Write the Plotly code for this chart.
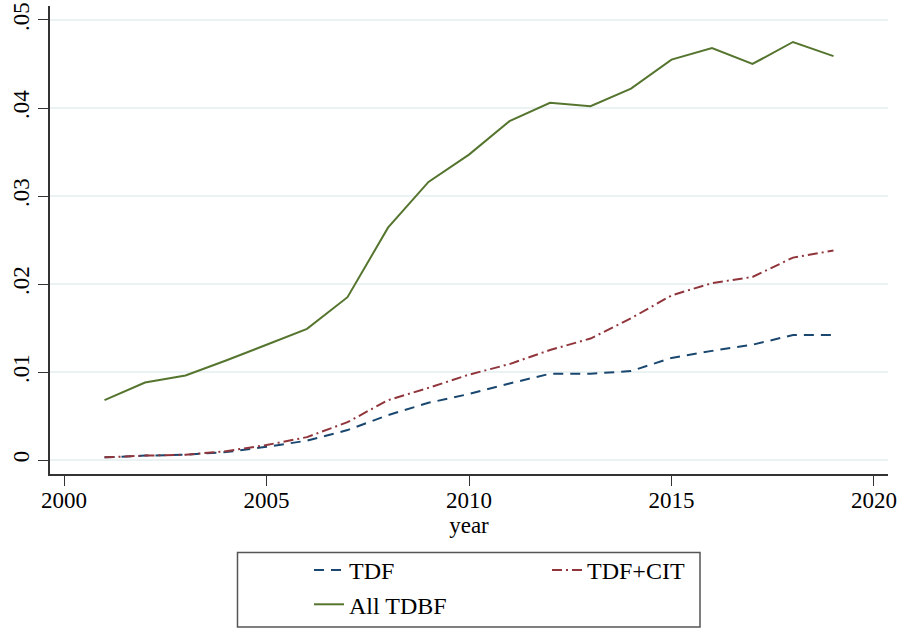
import plotly.graph_objects as go

years = list(range(2001, 2020))
tdf = [0.0003, 0.0005, 0.0006, 0.0009, 0.0015, 0.0022, 0.0034, 0.0051, 0.0065, 0.0075,
       0.0087, 0.0098, 0.0098, 0.0101, 0.0116, 0.0124, 0.0131, 0.0142, 0.0142]
tdf_cit = [0.0003, 0.0005, 0.0006, 0.0010, 0.0017, 0.0026, 0.0043, 0.0068, 0.0082, 0.0097,
           0.0109, 0.0125, 0.0138, 0.0161, 0.0187, 0.0201, 0.0208, 0.0230, 0.0238]
all_tdbf = [0.0068, 0.0088, 0.0096, 0.0113, 0.0131, 0.0149, 0.0185, 0.0264, 0.0316, 0.0347,
            0.0385, 0.0406, 0.0402, 0.0422, 0.0455, 0.0468, 0.0450, 0.0475, 0.0459]

x_ticks = [2000, 2005, 2010, 2015, 2020]
y_ticks = [0, 0.01, 0.02, 0.03, 0.04, 0.05]
y_ticklabels = ["0", ".01", ".02", ".03", ".04", ".05"]

FONT = "Liberation Serif, Times New Roman, serif"
W, H = 901, 628
L, R, T, B = 50, 13, 6, 154
pw, ph = W - L - R, H - T - B

def px(xf):
    return (xf - L) / pw

def py(yf):
    return (H - B - yf) / ph

fig = go.Figure()
fig.add_trace(go.Scatter(x=years, y=tdf, mode="lines", name="TDF",
                         line=dict(color="#1a476f", width=2, dash="10px,7px"),
                         legend="legend"))
fig.add_trace(go.Scatter(x=years, y=tdf_cit, mode="lines", name="TDF+CIT",
                         line=dict(color="#90353b", width=2, dash="10px,4px,2px,4px"),
                         legend="legend2"))
fig.add_trace(go.Scatter(x=years, y=all_tdbf, mode="lines", name="All TDBF",
                         line=dict(color="#55752f", width=2),
                         legend="legend"))

fig.update_layout(
    width=W, height=H,
    margin=dict(l=L, r=R, t=T, b=B, autoexpand=False),
    paper_bgcolor="white", plot_bgcolor="white",
    font=dict(family=FONT, size=23, color="black"),
    xaxis=dict(range=[1999.654, 2020.346], tickvals=x_ticks, ticks="outside", ticklen=10,
               tickcolor="#333", showline=True, linecolor="#333", linewidth=1.5,
               showgrid=False, zeroline=False, automargin=False,
               ticklabelstandoff=-5, ticklabeloverflow="allow",
               title=dict(text="year", font=dict(family=FONT, size=23), standoff=0),
               tickfont=dict(family=FONT, size=23)),
    yaxis=dict(range=[-0.00159, 0.05159], tickvals=y_ticks, ticktext=y_ticklabels,
               ticks="outside", ticklen=10, tickcolor="#333", tickangle=-90,
               showline=True, linecolor="#333", linewidth=1.5, automargin=False,
               ticklabeloverflow="allow",
               showgrid=True, gridcolor="#eaf2f3", gridwidth=1.5, zeroline=False,
               tickfont=dict(family=FONT, size=23)),
    legend=dict(x=px(309), y=py(548), xanchor="left", yanchor="top",
                orientation="v", bgcolor="rgba(0,0,0,0)", borderwidth=0,
                font=dict(family=FONT, size=24), tracegroupgap=0),
    legend2=dict(x=px(547), y=py(548), xanchor="left", yanchor="top",
                 orientation="v", bgcolor="rgba(0,0,0,0)", borderwidth=0,
                 font=dict(family=FONT, size=24)),
    shapes=[dict(type="rect", xref="paper", yref="paper",
                 x0=px(237.5), x1=px(700), y0=py(552.5), y1=py(627),
                 line=dict(color="#555", width=1.5), fillcolor="rgba(0,0,0,0)")],
)

fig.write_html("out.html",
               config={"displayModeBar": False},
               post_script="document.body.style.margin='0';")
